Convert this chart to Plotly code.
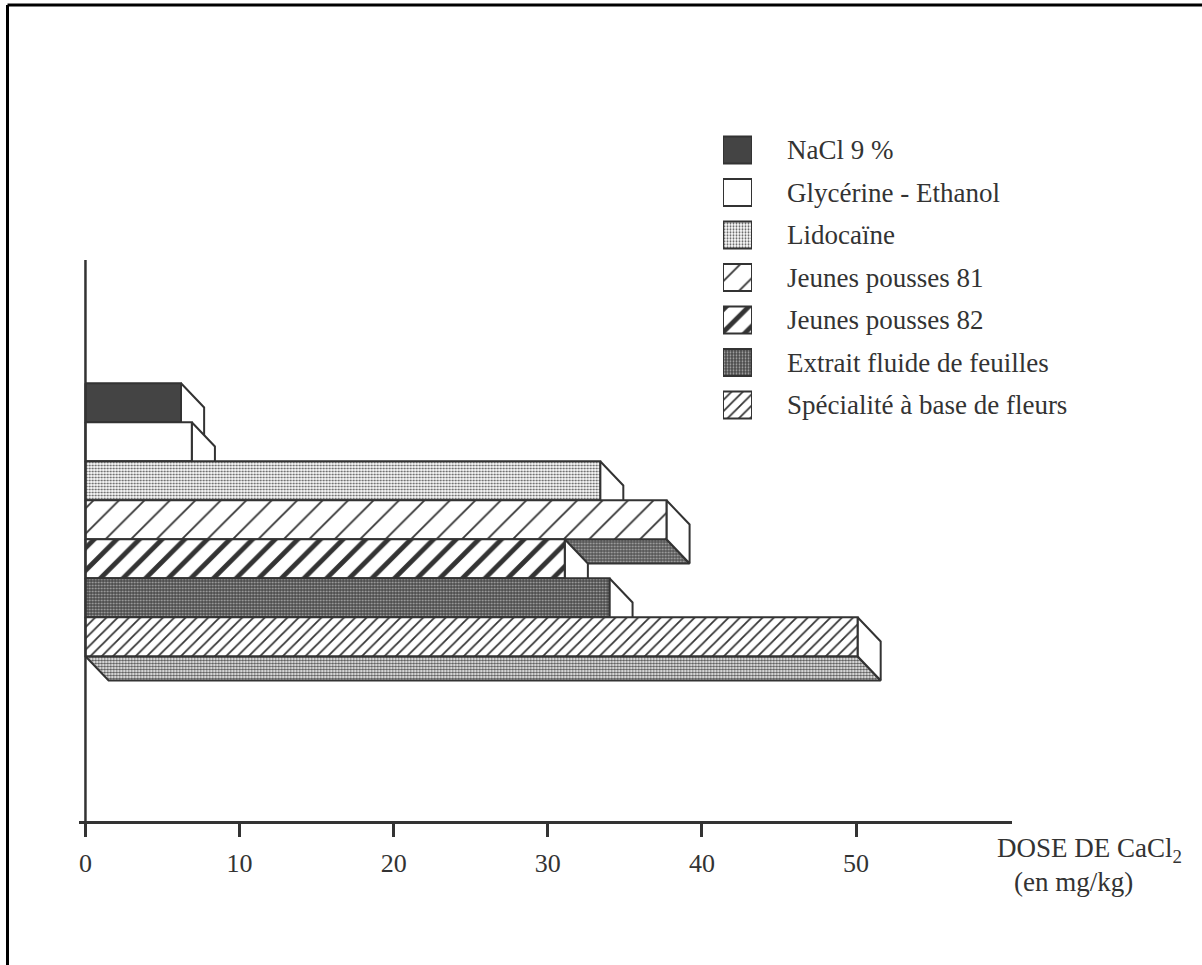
import plotly.graph_objects as go

# ---- data -------------------------------------------------------------
SERIES = [
    "NaCl 9 %",
    "Glycérine - Ethanol",
    "Lidocaïne",
    "Jeunes pousses 81",
    "Jeunes pousses 82",
    "Extrait fluide de feuilles",
    "Spécialité à base de fleurs",
]
DOSE = [6.2, 6.9, 33.4, 37.7, 31.1, 34.0, 50.1]   # mg/kg of CaCl2
X_TICKS = [0, 10, 20, 30, 40, 50]
X_TITLE = "DOSE DE CaCl<sub>2</sub>"
X_UNIT = "(en mg/kg)"

# ---- style ------------------------------------------------------------
W, H = 1202, 965
INK = "#333333"
SERIF = "Liberation Serif, Times New Roman, serif"

# extrusion of the 3-D bars (x in dose units, y in bar rows)
DEPTH_X = 1.5
DEPTH_Y = 0.62

# key layout (pixels from the top-left corner of the page)
KEY_TOP, KEY_STEP = 150, 42.5
KEY_TEXT_X = 785


def dots(size, solidity, fg, bg):
    return dict(fillcolor=bg, fillpattern=dict(shape=".", size=size, solidity=solidity,
                                               fgcolor=fg, bgcolor=bg, fillmode="replace"))


def hatch(size, solidity):
    return dict(fillcolor="white", fillpattern=dict(shape="/", size=size, solidity=solidity,
                                                    fgcolor=INK, bgcolor="white", fillmode="replace"))


FRONT_STYLE = [
    dict(fillcolor="#444444"),
    dict(fillcolor="white"),
    dots(3, 0.35, "#555555", "white"),
    hatch(18, 0.1),
    hatch(16, 0.3),
    dots(3, 0.3, "#aaaaaa", "#4a4a4a"),
    hatch(8, 0.22),
]
BASE_STYLE = [
    dots(3, 0.3, "#aaaaaa", "#555555"),
    dots(3, 0.3, "#aaaaaa", "#555555"),
    dots(3, 0.3, "#aaaaaa", "#555555"),
    dots(3, 0.3, "#aaaaaa", "#555555"),
    dots(3, 0.3, "#aaaaaa", "#555555"),
    dots(3, 0.3, "#aaaaaa", "#555555"),
    dots(3, 0.5, "#555555", "white"),
]
SIDE_STYLE = dict(fillcolor="white")


def face(xs, ys, style, xa="x", ya="y"):
    return go.Scatter(
        x=xs + [xs[0]], y=ys + [ys[0]], xaxis=xa, yaxis=ya,
        mode="lines", fill="toself",
        line=dict(color=INK, width=2),
        hoverinfo="skip", showlegend=False, **style,
    )


fig = go.Figure()

# bars drawn top to bottom so each one hides the extrusion of the one above
for i, v in enumerate(DOSE):
    t, b = i - 0.5, i + 0.5
    fig.add_trace(face([0, DEPTH_X, v + DEPTH_X, v],
                       [b, b + DEPTH_Y, b + DEPTH_Y, b], BASE_STYLE[i]))
    fig.add_trace(face([v, v + DEPTH_X, v + DEPTH_X, v],
                       [t, t + DEPTH_Y, b + DEPTH_Y, b], SIDE_STYLE))
    fig.add_trace(face([0, v, v, 0], [t, t, b, b], FRONT_STYLE[i]))

# key: swatches on their own small axes
for k, name in enumerate(SERIES):
    fig.add_trace(face([0, 1, 1, 0], [k - 0.32, k - 0.32, k + 0.32, k + 0.32],
                       FRONT_STYLE[k], xa="x2", ya="y2"))

annotations = [
    dict(xref="paper", yref="paper", x=KEY_TEXT_X / W, y=1 - (KEY_TOP + KEY_STEP * k) / H,
         text=name, showarrow=False, xanchor="left", yanchor="middle",
         font=dict(family=SERIF, size=27, color=INK))
    for k, name in enumerate(SERIES)
]
annotations += [
    dict(xref="paper", yref="paper", x=995 / W, y=1 - 850 / H, text=X_TITLE,
         showarrow=False, xanchor="left", yanchor="middle",
         font=dict(family=SERIF, size=27, color=INK)),
    dict(xref="paper", yref="paper", x=1012 / W, y=1 - 882 / H, text=X_UNIT,
         showarrow=False, xanchor="left", yanchor="middle",
         font=dict(family=SERIF, size=27, color=INK)),
]

shapes = [
    # vertical axis at zero dose
    dict(type="line", xref="x", yref="y domain", x0=0, x1=0, y0=0, y1=1,
         line=dict(color=INK, width=2.5)),
    # page frame (left and top edges)
    dict(type="line", xref="paper", yref="paper", x0=7.5 / W, x1=7.5 / W, y0=0, y1=1 - 5 / H,
         line=dict(color="black", width=3)),
    dict(type="line", xref="paper", yref="paper", x0=7.5 / W, x1=1, y0=1 - 5 / H, y1=1 - 5 / H,
         line=dict(color="black", width=3)),
]

key_top = KEY_TOP - KEY_STEP / 2
key_bottom = KEY_TOP + KEY_STEP * (len(SERIES) - 0.5)

fig.update_layout(
    width=W, height=H,
    margin=dict(l=0, r=0, t=0, b=0),
    paper_bgcolor="white", plot_bgcolor="rgba(0,0,0,0)",
    showlegend=False,
    xaxis=dict(
        domain=[79.3 / W, 1012 / W], range=[-0.40, 60.12], anchor="y",
        showgrid=False, zeroline=False,
        showline=True, linecolor=INK, linewidth=3,
        ticks="outside", tickvals=X_TICKS, ticklen=13, tickwidth=2.5, tickcolor=INK,
        ticklabelstandoff=4,
        tickfont=dict(family=SERIF, size=26, color=INK),
        fixedrange=True,
    ),
    yaxis=dict(
        domain=[144 / H, 705 / H], range=[10.723, -3.662], anchor="x",
        visible=False, fixedrange=True,
    ),
    xaxis2=dict(domain=[723 / W, 752 / W], range=[0, 1], anchor="y2", visible=False),
    yaxis2=dict(domain=[(H - key_bottom) / H, (H - key_top) / H],
                range=[len(SERIES) - 0.5, -0.5], anchor="x2", visible=False),
    annotations=annotations,
    shapes=shapes,
)

fig.write_html("out.html")
